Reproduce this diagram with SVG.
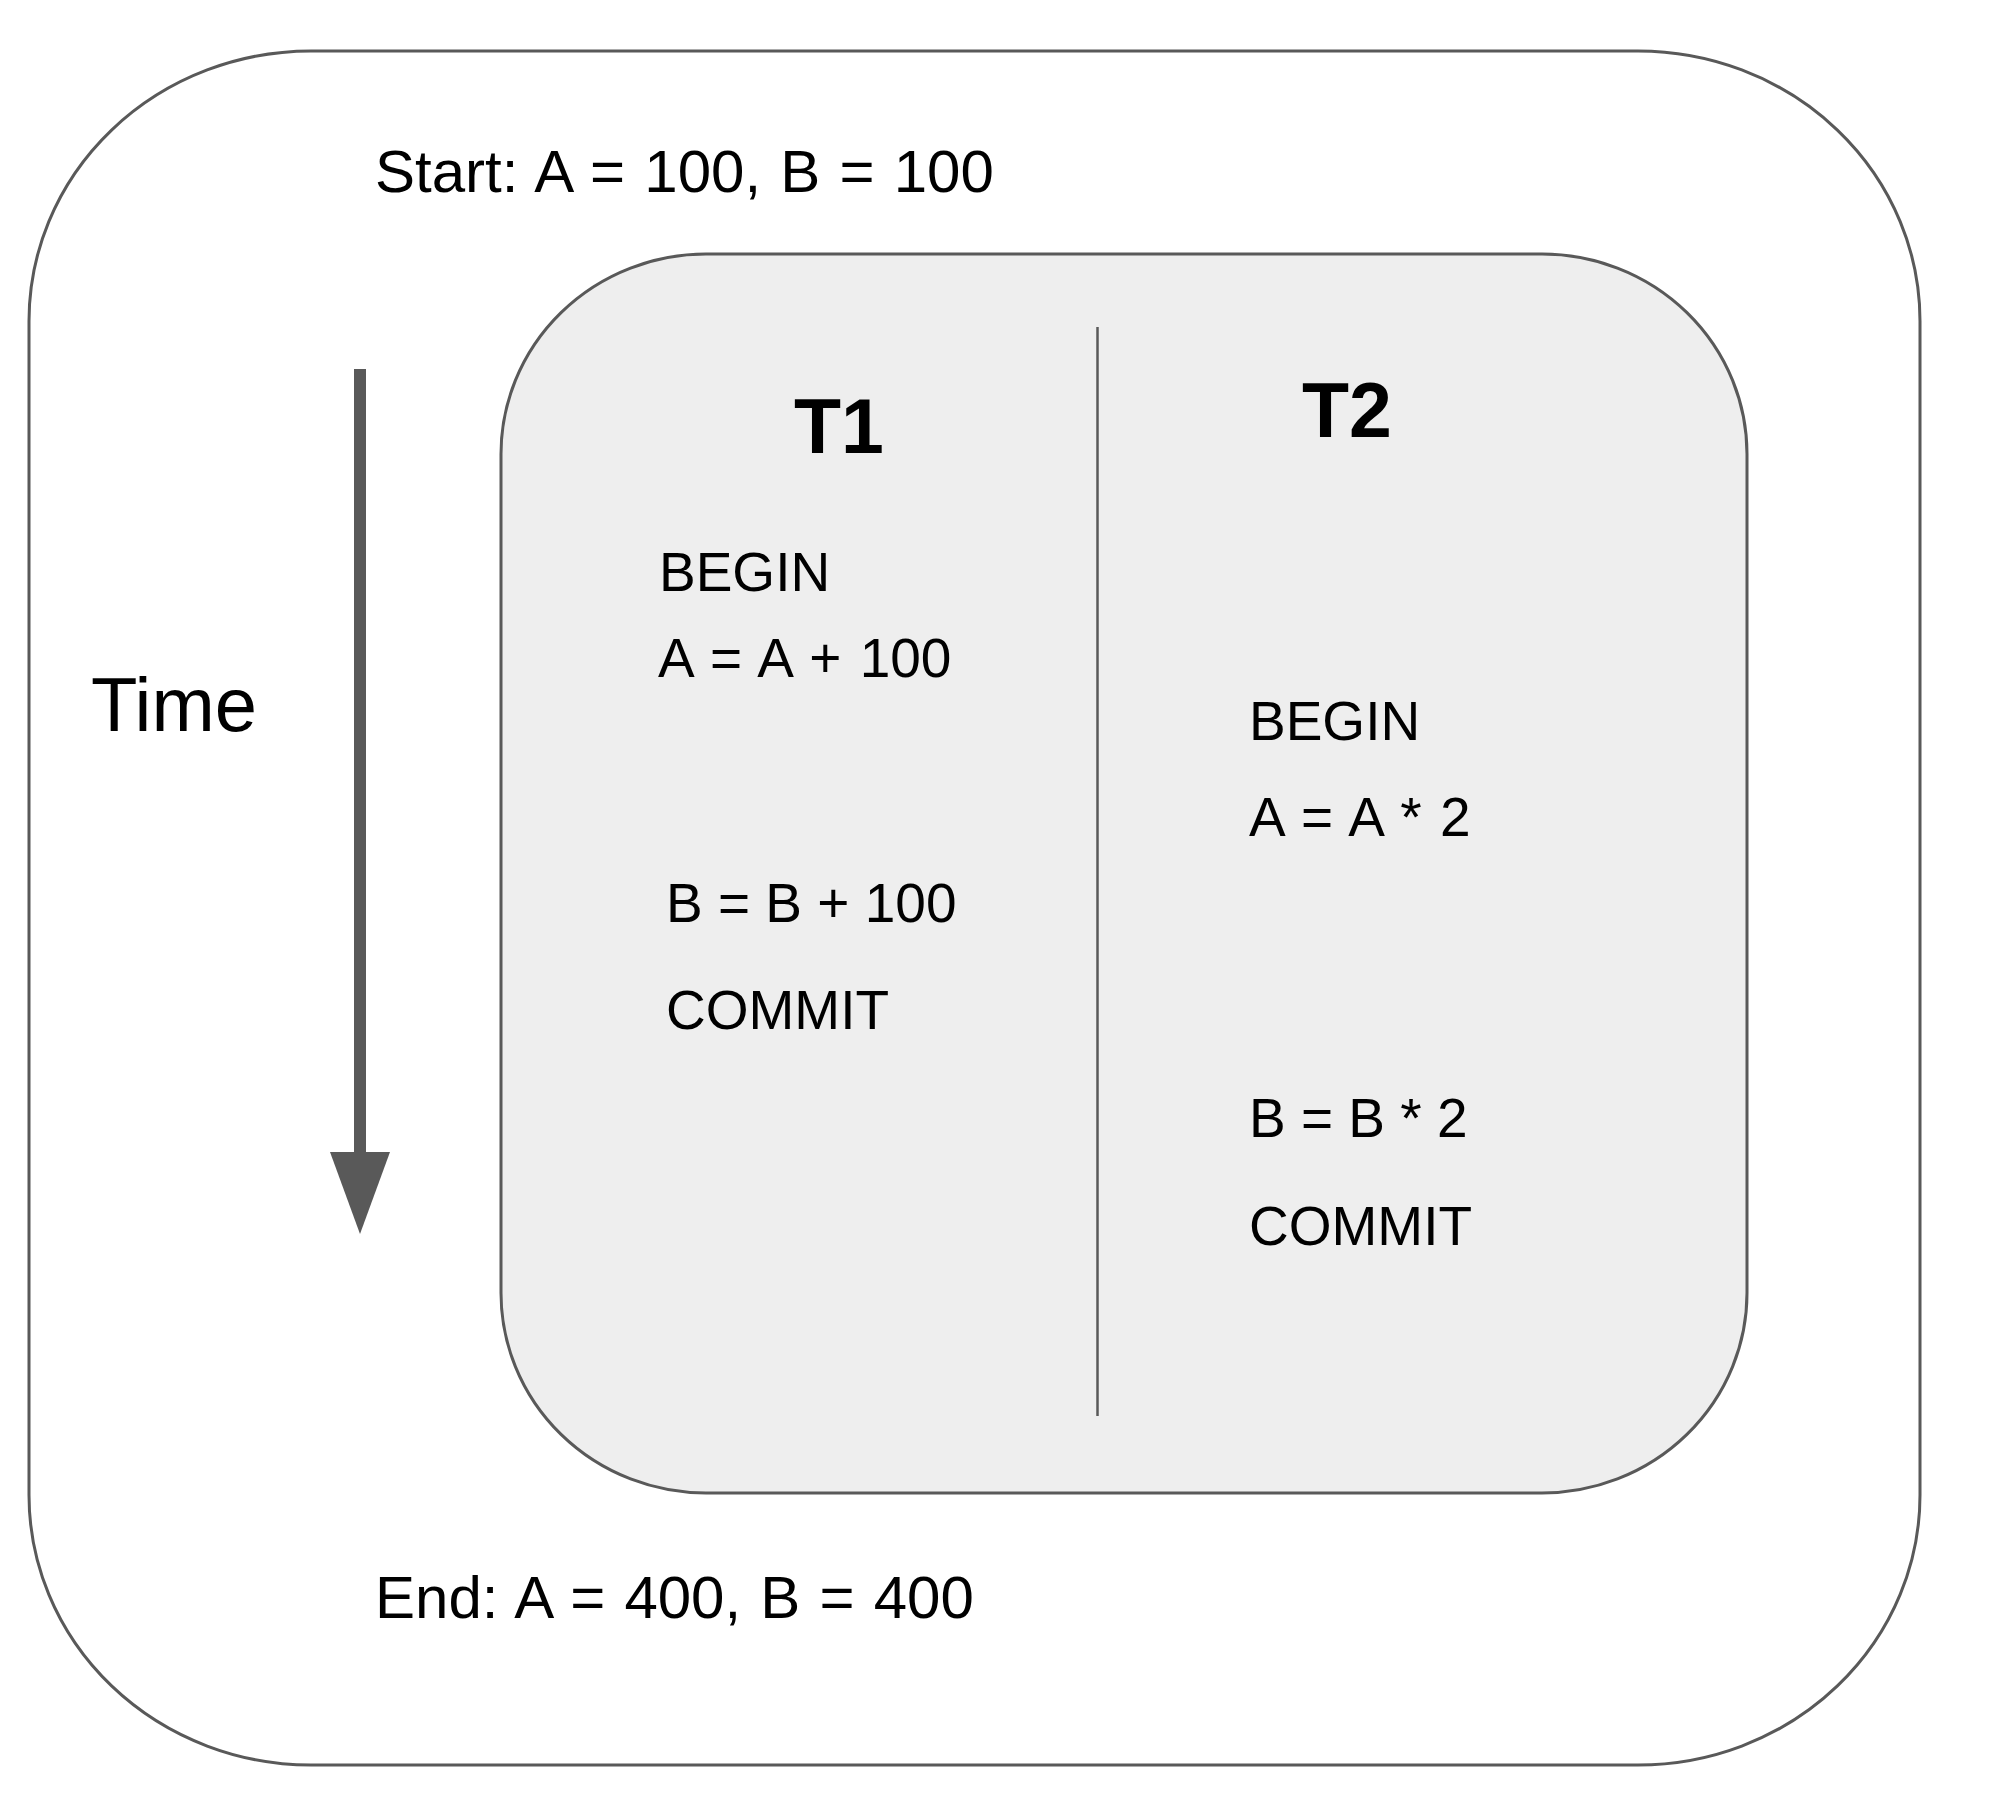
<svg xmlns="http://www.w3.org/2000/svg" width="2000" height="1820" viewBox="0 0 2000 1820">
<defs>
<style>
.box{stroke:#595959;stroke-width:3}
.t{font-family:"Liberation Sans",Arial,sans-serif;fill:#000}
.op{font-size:55px}
.ws{word-spacing:3px}
.big{font-size:60px;word-spacing:2.5px}
.hd{font-size:77px;font-weight:bold}
</style>
</defs>
<rect width="2000" height="1820" fill="#ffffff"/>
<g id="outer">
<rect class="box" x="29" y="51" width="1891" height="1714" rx="282" ry="270" fill="#ffffff"/>
<text class="t big" x="375" y="192">Start: A = 100, B = 100</text>
<text class="t big" x="375" y="1618">End: A = 400, B = 400</text>
</g>
<g id="time">
<text class="t" style="font-size:76px" x="91" y="731">Time</text>
</g>
<g id="inner">
<rect class="box" x="501" y="254" width="1246" height="1239" rx="205" ry="200" fill="#eeeeee"/>
</g>
<g id="connectors">
<line x1="360" y1="369" x2="360" y2="1154" stroke="#595959" stroke-width="12"/>
<path d="M330,1152 L390,1152 L360,1234 Z" fill="#595959"/>
<line x1="1097.5" y1="327" x2="1097.5" y2="1416" stroke="#595959" stroke-width="2.5"/>
</g>
<g id="t1">
<text class="t hd" x="794" y="453">T1</text>
<text class="t op" x="659" y="591">BEGIN</text>
<text class="t op ws" x="658" y="677">A = A + 100</text>
<text class="t op" x="666" y="922">B = B + 100</text>
<text class="t op" x="666" y="1029">COMMIT</text>
</g>
<g id="t2">
<text class="t hd" x="1302" y="437">T2</text>
<text class="t op" x="1249" y="740">BEGIN</text>
<text class="t op ws" x="1249" y="836">A = A * 2</text>
<text class="t op" x="1249" y="1137">B = B * 2</text>
<text class="t op" x="1249" y="1245">COMMIT</text>
</g>
</svg>
